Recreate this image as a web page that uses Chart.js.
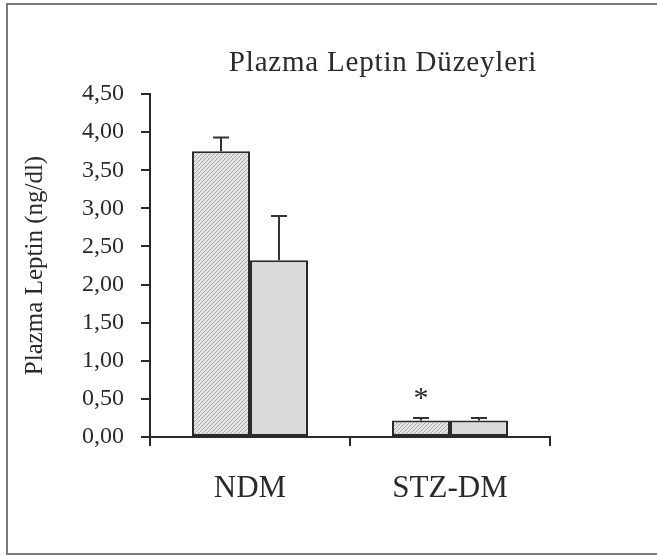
<!DOCTYPE html>
<html>
<head>
<meta charset="utf-8">
<script src="https://cdn.jsdelivr.net/npm/chart.js@4"></script>
<style>
  html, body { margin: 0; padding: 0; background: #fff; }
  #wrap { position: relative; width: 657px; height: 556px; }
</style>
</head>
<body>
<div id="wrap"><canvas id="c"></canvas></div>
<script>
// ---- data ----
const categories = ['NDM', 'STZ-DM'];
const seriesA = [3.75, 0.215];      // first bar of each group (hatched)
const seriesB = [2.32, 0.215];      // second bar of each group (plain)
const errA = [0.18, 0.035];
const errB = [0.58, 0.035];
const markA = ['', '*'];
const markB = ['', ''];
const yTickValues = [0, 0.5, 1, 1.5, 2, 2.5, 3, 3.5, 4, 4.5];
const yTickLabels = ['0,00','0,50','1,00','1,50','2,00','2,50','3,00','3,50','4,00','4,50'];
const titleText = 'Plazma Leptin Düzeyleri';
const yTitleText = 'Plazma Leptin (ng/dl)';

const SERIF = '"Liberation Serif", "Times New Roman", serif';
const INK = '#2a2a2a';

// hatch pattern
function makeHatch() {
  const p = document.createElement('canvas');
  p.width = 4; p.height = 4;
  const g = p.getContext('2d');
  g.fillStyle = '#e4e4e4';
  g.fillRect(0, 0, 4, 4);
  g.strokeStyle = '#a8a8a8';
  g.lineWidth = 1;
  g.beginPath();
  g.moveTo(0, 4); g.lineTo(4, 0);
  g.moveTo(-1, 1); g.lineTo(1, -1);
  g.moveTo(3, 5); g.lineTo(5, 3);
  g.stroke();
  return g.createPattern(p, 'repeat');
}

const errorBars = {
  id: 'errorBars',
  afterDatasetsDraw(chart) {
    const ctx = chart.ctx;
    const y = chart.scales.y;
    const errs = [errA, errB];
    const marks = [markA, markB];
    ctx.save();
    chart.data.datasets.forEach((ds, di) => {
      const meta = chart.getDatasetMeta(di);
      meta.data.forEach((bar, i) => {
        const v = ds.data[i];
        const top = y.getPixelForValue(v + errs[di][i]);
        ctx.strokeStyle = '#333333';
        ctx.lineWidth = 2;
        ctx.beginPath();
        ctx.moveTo(bar.x, bar.y);
        ctx.lineTo(bar.x, top);
        ctx.moveTo(bar.x - 8, top);
        ctx.lineTo(bar.x + 8, top);
        ctx.stroke();
        const m = marks[di][i];
        if (m) {
          ctx.fillStyle = INK;
          ctx.font = '30px ' + SERIF;
          ctx.textAlign = 'center';
          ctx.textBaseline = 'alphabetic';
          ctx.fillText(m, bar.x, top - 11);
        }
      });
    });
    ctx.restore();
  }
};

const decor = {
  id: 'decor',
  afterDraw(chart) {
    const ctx = chart.ctx;
    ctx.save();
    // title
    ctx.fillStyle = INK;
    ctx.font = '29px ' + SERIF;
    ctx.textAlign = 'center';
    ctx.textBaseline = 'alphabetic';
    try { ctx.letterSpacing = '0.8px'; } catch (e) {}
    ctx.fillText(titleText, 383, 71);
    try { ctx.letterSpacing = '0px'; } catch (e) {}
    // frame
    ctx.strokeStyle = '#7a7a7a';
    ctx.lineWidth = 2;
    ctx.beginPath();
    ctx.moveTo(657, 4); ctx.lineTo(7, 4); ctx.lineTo(7, 554); ctx.lineTo(657, 554);
    ctx.stroke();
    ctx.restore();
  }
};

const chart = new Chart(document.getElementById('c'), {
  type: 'bar',
  data: {
    labels: categories,
    datasets: [
      { data: seriesA, backgroundColor: makeHatch(), borderColor: INK, borderWidth: 2, borderSkipped: false },
      { data: seriesB, backgroundColor: '#dadada', borderColor: INK, borderWidth: 2, borderSkipped: false }
    ]
  },
  options: {
    responsive: true,
    maintainAspectRatio: false,
    animation: false,
    events: [],
    layout: { padding: { top: 94, right: 107, left: 0, bottom: 0 } },
    datasets: { bar: { categoryPercentage: 0.58, barPercentage: 1.0 } },
    plugins: { legend: { display: false }, title: { display: false }, tooltip: { enabled: false } },
    scales: {
      x: {
        offset: true,
        grid: { display: true, offset: true, drawOnChartArea: false, drawTicks: true, tickLength: 9, color: INK, lineWidth: 2 },
        border: { display: true, color: INK, width: 2 },
        ticks: { color: INK, font: { family: SERIF, size: 31 }, padding: 24 },
        afterFit(s) { s.height = 119; }
      },
      y: {
        min: 0, max: 4.5,
        afterBuildTicks(s) { s.ticks = yTickValues.map(v => ({ value: v })); },
        grid: { display: true, drawOnChartArea: false, drawTicks: true, tickLength: 9, color: INK, lineWidth: 2 },
        border: { display: true, color: INK, width: 2 },
        ticks: {
          color: INK, font: { family: SERIF, size: 24 }, padding: 17,
          callback(v) { const i = yTickValues.indexOf(v); return i >= 0 ? yTickLabels[i] : ''; }
        },
        title: { display: true, text: yTitleText, color: INK, font: { family: SERIF, size: 25 }, padding: { top: 20, bottom: 0 } },
        afterFit(s) { s.width = 150; }
      }
    }
  },
  plugins: [errorBars, decor]
});
</script>
</body>
</html>
